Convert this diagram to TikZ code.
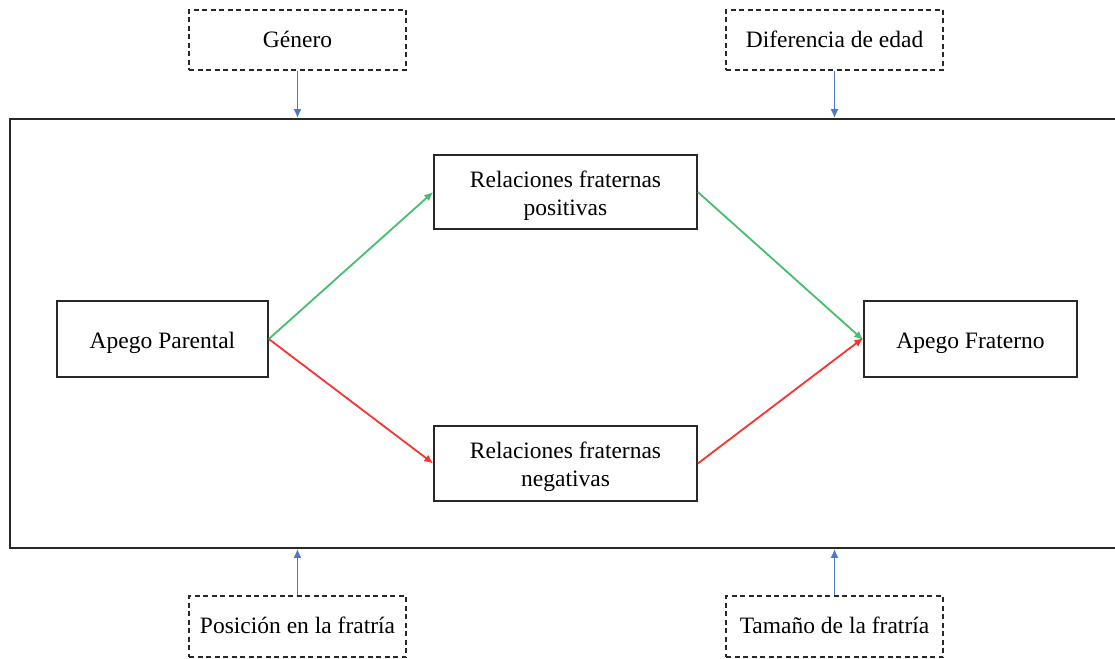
\documentclass[tikz,border=0pt]{standalone}
\usepackage{fontspec}
\setmainfont{Liberation Serif}
\usetikzlibrary{arrows.meta}
\definecolor{cgreen}{RGB}{70,190,110}
\definecolor{cred}{RGB}{250,50,50}
\definecolor{cblue}{RGB}{75,120,205}
\definecolor{cline}{RGB}{40,40,40}
\tikzset{
  solidbox/.style={draw=cline,line width=1.6pt,minimum height=76pt,align=center,inner sep=0pt,text height=23.5pt,text depth=5pt,font=\fontsize{23.5}{28}\selectfont},
  dashbox/.style={draw=cline,line width=1.5pt,dash pattern=on 5pt off 3.5pt,minimum width=217pt,minimum height=60pt,align=center,inner sep=0pt,font=\fontsize{23.5}{28}\selectfont},
  garrow/.style={draw=cgreen,line width=1.8pt,-{Latex[length=9pt,width=8pt]}},
  rarrow/.style={draw=cred,line width=1.8pt,-{Latex[length=9pt,width=8pt]}},
  barrow/.style={draw=cblue,line width=1.8pt,-{Latex[length=9pt,width=8pt]}},
}
\begin{document}
\begin{tikzpicture}[x=1pt,y=-1pt]
\useasboundingbox (0,0) rectangle (1115,658);
\fill[white] (0,0) rectangle (1115,658);
\node[draw=cline,line width=1.7pt,minimum width=1115pt,minimum height=429pt,inner sep=0pt] (frame) at (567.5,333.5) {};
\node[dashbox,text height=21pt,text depth=5pt] (gen) at (297.5,40) {Género};
\node[dashbox,text height=21pt,text depth=5pt] (dif) at (834.5,40) {Diferencia de edad};
\node[dashbox,minimum height=61pt,text height=18pt,text depth=5pt] (pos) at (297.5,626.5) {Posición en la fratría};
\node[dashbox,minimum height=61pt,text height=18pt,text depth=5pt] (tam) at (834.5,626.5) {Tamaño de la fratría};
\node[solidbox,minimum width=263pt,minimum height=74pt,text height=51pt] (rp) at (565.5,192) {Relaciones fraternas\\positivas};
\node[solidbox,minimum width=263pt,minimum height=75pt,text height=51pt] (rn) at (565.5,463.5) {Relaciones fraternas\\negativas};
\node[solidbox,minimum width=211pt] (ap) at (162.5,339) {Apego Parental};
\node[solidbox,minimum width=213pt] (af) at (970.5,339) {Apego Fraterno};
\draw[barrow] (gen.south) -- (gen.south |- frame.north);
\draw[barrow] (dif.south) -- (dif.south |- frame.north);
\draw[barrow] (pos.north) -- (pos.north |- frame.south);
\draw[barrow] (tam.north) -- (tam.north |- frame.south);
\draw[garrow] (ap.east) -- (rp.west);
\draw[rarrow] (ap.east) -- (rn.west);
\draw[garrow] (rp.east) -- ([yshift=-1pt]af.west);
\draw[rarrow] (rn.east) -- ([yshift=1pt]af.west);
\end{tikzpicture}
\end{document}
